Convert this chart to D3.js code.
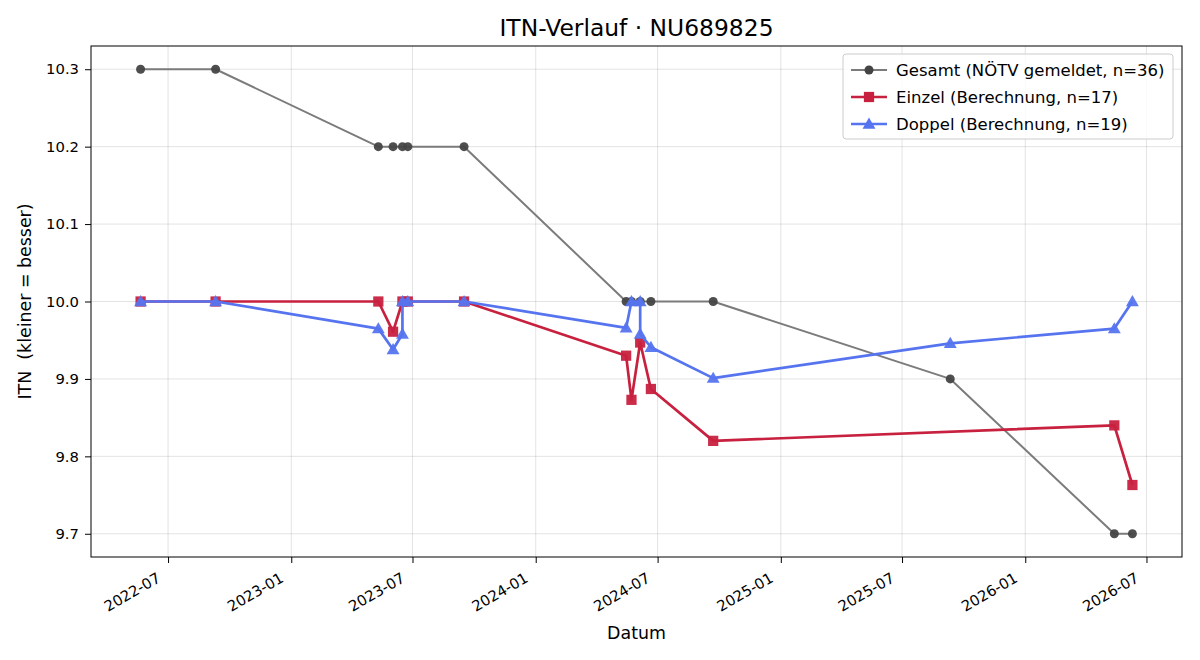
<!DOCTYPE html>
<html>
<head>
<meta charset="utf-8">
<script src="https://cdn.jsdelivr.net/npm/d3@7"></script>
<style>
  body { margin: 0; background: #fff; }
  svg text { font-family: "DejaVu Sans", sans-serif; fill: #000; }
</style>
</head>
<body>
<div id="chart"></div>
<script>
// ---- data ----
const gesamtDates = ['2022-05-21','2022-09-10','2023-05-11','2023-06-02','2023-06-16','2023-06-24','2023-09-16',
  '2024-05-15','2024-05-23','2024-06-05','2024-06-21','2024-09-22','2025-09-11','2026-05-14','2026-06-10'];
const gesamtValues = [10.3, 10.3, 10.2, 10.2, 10.2, 10.2, 10.2, 10.0, 10.0, 10.0, 10.0, 10.0, 9.9, 9.7, 9.7];

const einzelDates = ['2022-05-21','2022-09-10','2023-05-11','2023-06-02','2023-06-16','2023-06-24','2023-09-16',
  '2024-05-15','2024-05-23','2024-06-05','2024-06-21','2024-09-22','2026-05-14','2026-06-10'];
const einzelValues = [10.0, 10.0, 10.0, 9.961, 10.0, 10.0, 10.0, 9.930, 9.873, 9.947, 9.887, 9.820, 9.840, 9.763];

const doppelDates = ['2022-05-21','2022-09-10','2023-05-11','2023-06-02','2023-06-16','2023-06-16','2023-06-24','2023-09-16',
  '2024-05-15','2024-05-23','2024-06-05','2024-06-05','2024-06-21','2024-09-22','2025-09-11','2026-05-14','2026-06-10'];
const doppelValues = [10.0, 10.0, 9.965, 9.938, 9.958, 10.0, 10.0, 10.0, 9.966, 10.0, 10.0, 9.958, 9.941, 9.901, 9.946, 9.965, 10.0];

const yTicks = [9.7, 9.8, 9.9, 10.0, 10.1, 10.2, 10.3];
const xTicks = ['2022-07-01','2023-01-01','2023-07-01','2024-01-01','2024-07-01','2025-01-01','2025-07-01','2026-01-01','2026-07-01'];

const seriesDefs = [
  {name: 'Gesamt (NÖTV gemeldet, n=36)', dates: gesamtDates, values: gesamtValues, line: '#7b7b7b', marker: '#444444', shape: 'circle'},
  {name: 'Einzel (Berechnung, n=17)', dates: einzelDates, values: einzelValues, line: '#c8213f', marker: '#c8213f', shape: 'square'},
  {name: 'Doppel (Berechnung, n=19)', dates: doppelDates, values: doppelValues, line: '#5674ef', marker: '#5674ef', shape: 'triangle'}
];

const width = 1200, height = 660;
const margin = {top: 46, right: 18, bottom: 103, left: 91};
const cw = width - margin.left - margin.right, ch = height - margin.top - margin.bottom;
const parse = d3.utcParse('%Y-%m-%d');

const series = seriesDefs.map(s => Object.assign({}, s, {
  pts: s.dates.map((d, i) => ({date: parse(d), value: s.values[i]}))
}));

// matplotlib-like 5% padding
const allPts = series.flatMap(s => s.pts);
const [t0, t1] = d3.extent(allPts, d => +d.date);
const padT = (t1 - t0) * 0.05;
const x = d3.scaleUtc().domain([new Date(t0 - padT), new Date(t1 + padT)]).range([0, cw]);
const [v0, v1] = d3.extent(allPts, d => d.value);
const padV = (v1 - v0) * 0.05;
const y = d3.scaleLinear().domain([v0 - padV, v1 + padV]).range([ch, 0]);

const svg = d3.select('#chart').append('svg').attr('width', width).attr('height', height);
const g = svg.append('g').attr('transform', `translate(${margin.left},${margin.top})`);

// grid
g.append('g').selectAll('line').data(xTicks.map(parse)).join('line')
  .attr('x1', d => x(d)).attr('x2', d => x(d)).attr('y1', 0).attr('y2', ch)
  .attr('stroke', '#b0b0b0').attr('stroke-opacity', 0.35).attr('stroke-width', 1);
g.append('g').selectAll('line').data(yTicks).join('line')
  .attr('x1', 0).attr('x2', cw).attr('y1', d => y(d)).attr('y2', d => y(d))
  .attr('stroke', '#b0b0b0').attr('stroke-opacity', 0.35).attr('stroke-width', 1);

// axes
const xAxis = g.append('g').attr('transform', `translate(0,${ch})`)
  .call(d3.axisBottom(x).tickValues(xTicks.map(parse)).tickFormat(d3.utcFormat('%Y-%m')).tickSizeOuter(0).tickSize(6));
xAxis.selectAll('text')
  .style('font-size', '14.8px')
  .attr('text-anchor', 'end')
  .attr('x', 0).attr('y', 0).attr('dy', 0)
  .attr('transform', 'translate(-7,24) rotate(-30)');
const yAxis = g.append('g')
  .call(d3.axisLeft(y).tickValues(yTicks).tickFormat(d3.format('.1f')).tickSizeOuter(0).tickSize(6));
yAxis.selectAll('text').style('font-size', '14.8px').attr('x', -12);
[xAxis, yAxis].forEach(a => {
  a.select('.domain').remove();
  a.selectAll('line').attr('stroke', '#000').attr('stroke-width', 1);
});

// frame
g.append('rect').attr('width', cw).attr('height', ch)
  .attr('fill', 'none').attr('stroke', '#000').attr('stroke-width', 1);

// lines and markers
const line = d3.line().x(d => x(d.date)).y(d => y(d.value));
const symbolFor = {
  circle: d3.symbol().type(d3.symbolCircle).size(64),
  square: d3.symbol().type(d3.symbolSquare).size(105),
  triangle: d3.symbol().type(d3.symbolTriangle).size(72)
};

series.forEach(s => {
  const sg = g.append('g');
  sg.append('path').datum(s.pts).attr('d', line)
    .attr('fill', 'none').attr('stroke', s.line).attr('stroke-width', s.shape === 'circle' ? 2 : 2.7)
    .attr('stroke-linejoin', 'round');
  sg.selectAll('path.m').data(s.pts).join('path').attr('class', 'm')
    .attr('d', symbolFor[s.shape])
    .attr('transform', d => `translate(${x(d.date)},${y(d.value) + (s.shape === 'triangle' ? 1 : 0)})`)
    .attr('fill', s.marker).attr('fill-opacity', 0.95);
});

// title and labels
svg.append('text').attr('x', margin.left + cw / 2).attr('y', 36).attr('text-anchor', 'middle')
  .style('font-size', '23.4px').text('ITN-Verlauf · NU689825');
svg.append('text').attr('x', margin.left + cw / 2).attr('y', 639).attr('text-anchor', 'middle')
  .style('font-size', '17.4px').text('Datum');
svg.append('text').attr('transform', `translate(31,${margin.top + ch / 2}) rotate(-90)`).attr('text-anchor', 'middle')
  .style('font-size', '17.4px').style('white-space', 'pre').text('ITN  (kleiner = besser)');

// legend
const lg = svg.append('g').attr('transform', 'translate(843,54)');
lg.append('rect').attr('width', 330).attr('height', 85).attr('rx', 3)
  .attr('fill', '#fff').attr('fill-opacity', 0.8).attr('stroke', '#cccccc');
series.forEach((s, i) => {
  const row = lg.append('g').attr('transform', `translate(0,${16 + i * 27})`);
  row.append('line').attr('x1', 8).attr('x2', 44).attr('y1', 0).attr('y2', 0)
    .attr('stroke', s.line).attr('stroke-width', s.shape === 'circle' ? 2 : 2.7);
  row.append('path').attr('d', symbolFor[s.shape]).attr('transform', `translate(26,${s.shape === 'triangle' ? 1 : 0})`)
    .attr('fill', s.marker);
  row.append('text').attr('x', 53).attr('y', 0).attr('dy', '0.35em').style('font-size', '16.5px').text(s.name);
});
</script>
</body>
</html>
